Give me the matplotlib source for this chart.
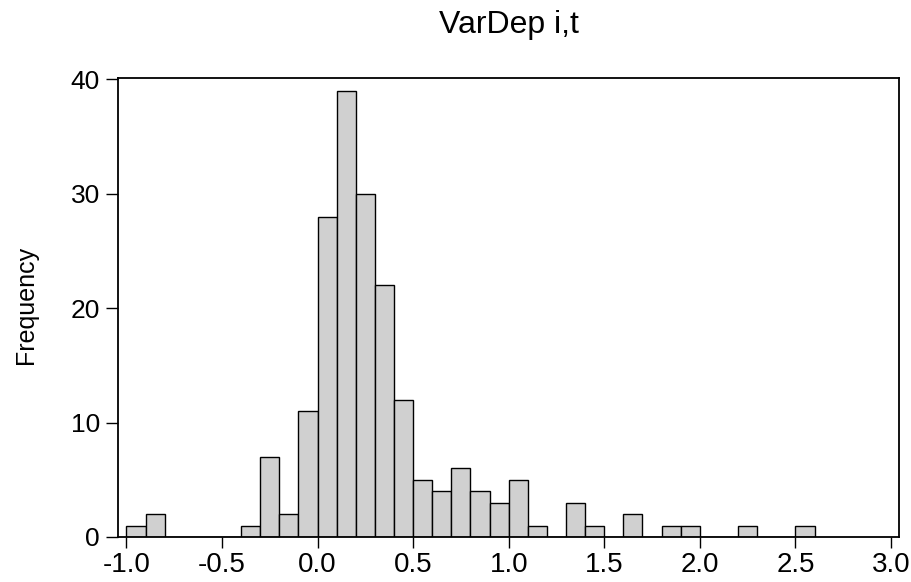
import matplotlib.pyplot as plt
import numpy as np

# histogram data (bins of width 0.1 starting at -1.0)
bin_start = -1.0
bin_width = 0.1
counts = [1, 2, 0, 0, 0, 0, 1, 7, 2, 11, 28, 39, 30, 22, 12, 5, 4, 6, 4, 3,
          5, 1, 0, 3, 1, 0, 2, 0, 1, 1, 0, 0, 1, 0, 0, 1]
x_ticks = [-1.0, -0.5, 0.0, 0.5, 1.0, 1.5, 2.0, 2.5, 3.0]
y_ticks = [0, 10, 20, 30, 40]
title = "VarDep i,t"
ylabel = "Frequency"

plt.rcParams['font.family'] = ['Liberation Sans', 'DejaVu Sans']

fig = plt.figure(figsize=(9.12, 5.82), dpi=100)
ax = fig.add_axes([118 / 912, 1 - 537 / 582, (899 - 118) / 912, (537 - 78) / 582])

lefts = bin_start + bin_width * np.arange(len(counts))
ax.bar(lefts, counts, width=bin_width, align='edge', color='#d0d0d0',
       edgecolor='black', linewidth=1.0)

ax.set_xlim(-1.044, 3.042)
ax.set_ylim(0, 40.1)
ax.set_xticks(x_ticks)
ax.set_xticklabels([f"{t:.1f}" for t in x_ticks], fontsize=20)
ax.set_yticks(y_ticks)
ax.tick_params(axis='y', labelsize=19, length=9, width=1, direction='out', pad=4)
ax.tick_params(axis='x', length=8, width=1, direction='out', pad=3)
for s in ax.spines.values():
    s.set_linewidth(1.3)

fig.text(26 / 912, 1 - 305 / 582, ylabel, rotation=90, ha='center', va='center', fontsize=18)
fig.text(509 / 912, 1 - 33 / 582, title, ha='center', va='baseline', fontsize=23)

fig.savefig("out.png", dpi=100)
